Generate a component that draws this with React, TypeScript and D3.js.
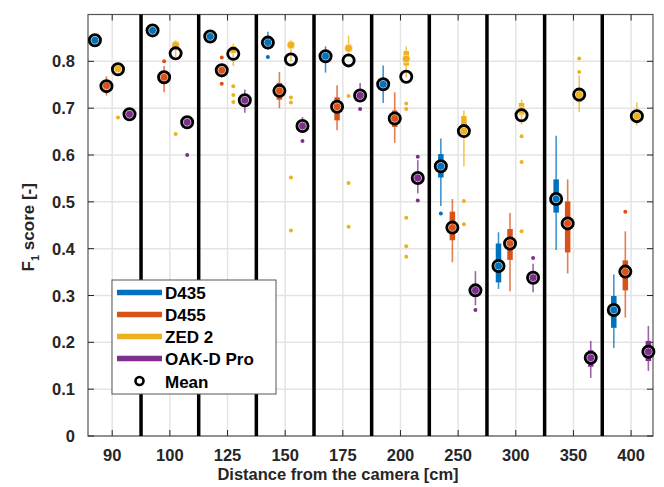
import React from "react";
import * as d3 from "d3";

// distance groups (x tick labels)
const distances = ["90", "100", "125", "150", "175", "200", "250", "300", "350", "400"];
const cameras = ["D435", "D455", "ZED 2", "OAK-D Pro"];
const colors = ["#0072BD", "#D95319", "#EDB120", "#7E2F8E"];
const yTicks = [0, 0.1, 0.2, 0.3, 0.4, 0.5, 0.6, 0.7, 0.8];

// per camera, per distance: [whiskerLow, q1, median, q3, whiskerHigh, mean]
const statsD435 = [
  [0.835, 0.84, 0.845, 0.85, 0.855, 0.845],
  [0.86, 0.863, 0.866, 0.869, 0.872, 0.866],
  [0.84, 0.848, 0.853, 0.858, 0.862, 0.853],
  [0.825, 0.835, 0.84, 0.848, 0.863, 0.84],
  [0.776, 0.8, 0.811, 0.822, 0.832, 0.811],
  [0.711, 0.74, 0.751, 0.762, 0.791, 0.751],
  [0.491, 0.552, 0.576, 0.602, 0.635, 0.576],
  [0.314, 0.328, 0.363, 0.411, 0.435, 0.363],
  [0.397, 0.477, 0.506, 0.548, 0.641, 0.506],
  [0.188, 0.231, 0.269, 0.299, 0.345, 0.269],
];
const statsD455 = [
  [0.727, 0.74, 0.748, 0.755, 0.768, 0.747],
  [0.734, 0.752, 0.766, 0.78, 0.79, 0.766],
  [0.765, 0.775, 0.781, 0.787, 0.795, 0.781],
  [0.7, 0.718, 0.737, 0.754, 0.777, 0.737],
  [0.653, 0.674, 0.703, 0.723, 0.749, 0.703],
  [0.626, 0.66, 0.678, 0.695, 0.734, 0.678],
  [0.371, 0.418, 0.445, 0.479, 0.506, 0.445],
  [0.309, 0.376, 0.411, 0.442, 0.476, 0.411],
  [0.347, 0.392, 0.454, 0.501, 0.548, 0.454],
  [0.253, 0.311, 0.351, 0.375, 0.437, 0.351],
];
const statsZED2 = [
  [0.77, 0.778, 0.784, 0.79, 0.797, 0.783],
  [0.81, 0.826, 0.835, 0.842, 0.846, 0.817],
  [0.79, 0.818, 0.825, 0.832, 0.838, 0.816],
  [0.8, 0.827, 0.835, 0.841, 0.846, 0.804],
  [0.81, 0.82, 0.828, 0.836, 0.855, 0.802],
  [0.765, 0.791, 0.805, 0.822, 0.832, 0.767],
  [0.576, 0.645, 0.651, 0.683, 0.695, 0.651],
  [0.665, 0.685, 0.695, 0.711, 0.718, 0.685],
  [0.692, 0.713, 0.729, 0.738, 0.77, 0.729],
  [0.663, 0.675, 0.683, 0.69, 0.712, 0.683],
];
const statsOAK = [
  [0.68, 0.684, 0.687, 0.69, 0.695, 0.687],
  [0.66, 0.665, 0.67, 0.675, 0.68, 0.67],
  [0.69, 0.71, 0.717, 0.724, 0.74, 0.717],
  [0.649, 0.655, 0.662, 0.668, 0.681, 0.662],
  [0.717, 0.72, 0.727, 0.735, 0.754, 0.727],
  [0.518, 0.54, 0.551, 0.56, 0.589, 0.551],
  [0.279, 0.3, 0.311, 0.32, 0.352, 0.311],
  [0.307, 0.33, 0.338, 0.345, 0.368, 0.338],
  [0.124, 0.148, 0.167, 0.183, 0.203, 0.167],
  [0.139, 0.16, 0.18, 0.203, 0.235, 0.18],
];

// outliers per camera, per distance
const outD435 = [[], [], [], [0.809], [], [], [0.475], [], [], []];
const outD455 = [[], [0.8], [0.808, 0.752], [], [], [], [], [], [], [0.479]];
const outZED2 = [
  [0.68], [0.645], [0.747, 0.728, 0.713], [0.723, 0.712, 0.552, 0.439],
  [0.726, 0.54, 0.447], [0.71, 0.698, 0.466, 0.405, 0.383], [0.502, 0.452],
  [0.64, 0.585, 0.437], [0.806, 0.777], [],
];
const outOAK = [[], [0.6], [], [0.63], [0.698], [0.596, 0.503], [0.269], [0.38], [], []];

const allStats = [statsD435, statsD455, statsZED2, statsOAK];
const allOut = [outD435, outD455, outZED2, outOAK];
const offsets = [-0.3, -0.1, 0.1, 0.3];

const W = 664;
const H = 487;
const L = 88, R = 653, T = 14.5, B = 436;
const FONT = "'Liberation Sans', Arial, Helvetica, sans-serif";
const AX = "#262626";

export default function App() {
  const x = d3.scaleLinear().domain([-0.42, 9.38]).range([L, R]);
  const y = d3.scaleLinear().domain([0, 0.9]).range([B, T]);
  const centers = distances.map((_, i) => i);
  const seps = d3.range(0, distances.length - 1).map((i) => i + 0.5);

  return (
    <svg width={W} height={H} style={{ position: "absolute", left: 0, top: 0, background: "#fff" }}>
      <rect x={0} y={0} width={W} height={H} fill="#fff" />
      <rect x={L} y={T} width={R - L} height={B - T} fill="#fff" />
      {/* grid */}
      {yTicks.map((t) => (
        <line key={"gy" + t} x1={L} x2={R} y1={y(t)} y2={y(t)} stroke="#e4e4e4" strokeWidth={1.5} />
      ))}
      {centers.map((c) => (
        <line key={"gx" + c} x1={x(c)} x2={x(c)} y1={T} y2={B} stroke="#e4e4e4" strokeWidth={1.5} />
      ))}
      {/* frame */}
      <rect x={L} y={T} width={R - L} height={B - T} fill="none" stroke="#555" strokeWidth={1.2} />
      {/* ticks */}
      {yTicks.map((t) => (
        <g key={"ty" + t}>
          <line x1={L} x2={L + 6} y1={y(t)} y2={y(t)} stroke={AX} strokeWidth={1} />
          <line x1={R} x2={R - 6} y1={y(t)} y2={y(t)} stroke={AX} strokeWidth={1} />
          <text x={L - 13} y={y(t) + 6} textAnchor="end" fontFamily={FONT} fontWeight="bold" fontSize={16.5} fill={AX}>
            {t === 0 ? "0" : d3.format(".1f")(t)}
          </text>
        </g>
      ))}
      {centers.map((c, i) => (
        <g key={"tx" + c}>
          <line x1={x(c)} x2={x(c)} y1={B} y2={B - 6} stroke={AX} strokeWidth={1} />
          <line x1={x(c)} x2={x(c)} y1={T} y2={T + 6} stroke={AX} strokeWidth={1} />
          <text x={x(c)} y={B + 25} textAnchor="middle" fontFamily={FONT} fontWeight="bold" fontSize={16.5} fill={AX}>
            {distances[i]}
          </text>
        </g>
      ))}
      {/* separators */}
      {seps.map((s) => (
        <line key={"s" + s} x1={x(s)} x2={x(s)} y1={T} y2={B} stroke="#000" strokeWidth={3.5} />
      ))}
      {/* boxes */}
      {allStats.map((stats, k) => (
        <g key={"cam" + k}>
          {stats.map((s, i) => {
            const px = x(i + offsets[k]);
            return (
              <g key={i}>
                <line x1={px} x2={px} y1={y(s[0])} y2={y(s[4])} stroke={colors[k]} strokeWidth={1.6} strokeOpacity={0.75} />
                <line x1={px} x2={px} y1={y(s[1])} y2={y(s[3])} stroke={colors[k]} strokeWidth={5.5} />
                {allOut[k][i].map((o, j) => (
                  <circle key={j} cx={px} cy={y(o)} r={2} fill={colors[k]} />
                ))}
                <circle cx={px} cy={y(s[2])} r={4} fill={colors[k]} stroke="#fff" strokeWidth={0.6} />
              </g>
            );
          })}
        </g>
      ))}
      {/* means */}
      {allStats.map((stats, k) => (
        <g key={"mean" + k}>
          {stats.map((s, i) => (
            <circle key={i} cx={x(i + offsets[k])} cy={y(s[5])} r={5.6} fill="none" stroke="#000" strokeWidth={2.8} />
          ))}
        </g>
      ))}
      {/* axis labels */}
      <text x={338} y={480} textAnchor="middle" fontFamily={FONT} fontWeight="bold" fontSize={16.5} fill={AX}>
        Distance from the camera [cm]
      </text>
      <text transform={`translate(34,${(T + B) / 2 + 2}) rotate(-90)`} textAnchor="middle" fontFamily={FONT} fontWeight="bold" fontSize={17} fill={AX}>
        F<tspan fontSize={11} dy={5}>1</tspan>
        <tspan dy={-5}> score [-]</tspan>
      </text>
      {/* legend */}
      <g>
        <rect x={112} y={280} width={164} height={114} fill="#fff" stroke="#555" strokeWidth={1} />
        {cameras.map((c, k) => (
          <g key={c}>
            <line x1={117} x2={162} y1={292.5 + k * 22} y2={292.5 + k * 22} stroke={colors[k]} strokeWidth={5.5} />
            <text x={165} y={292.5 + k * 22 + 6.5} fontFamily={FONT} fontWeight="bold" fontSize={17} fill="#000">
              {c}
            </text>
          </g>
        ))}
        <circle cx={139.5} cy={381} r={4} fill="none" stroke="#000" strokeWidth={2.6} />
        <text x={165} y={381 + 6.5} fontFamily={FONT} fontWeight="bold" fontSize={17} fill="#000">
          Mean
        </text>
      </g>
    </svg>
  );
}
